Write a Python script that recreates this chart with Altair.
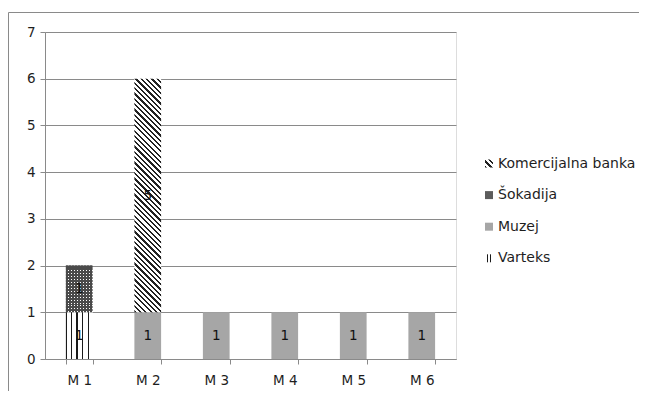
import altair as alt
import pandas as pd

# ---------------- data ----------------
categories = ["M 1", "M 2", "M 3", "M 4", "M 5", "M 6"]
stack_order = ["Varteks", "Muzej", "Šokadija", "Komercijalna banka"]  # bottom -> top
legend_order = ["Komercijalna banka", "Šokadija", "Muzej", "Varteks"]
varteks = [1, 0, 0, 0, 0, 0]
muzej = [0, 1, 1, 1, 1, 1]
sokadija = [1, 0, 0, 0, 0, 0]
komercijalna = [0, 5, 0, 0, 0, 0]
y_ticks = [0, 1, 2, 3, 4, 5, 6, 7]

rows = []
for name, vals in zip(stack_order, [varteks, muzej, sokadija, komercijalna]):
    for c, v in zip(categories, vals):
        if v:
            rows.append({"cat": c, "series": name, "value": v, "order": stack_order.index(name)})
df = pd.DataFrame(rows)

# ---------------- layout / style ----------------
PW, PH = 411, 327
PAD = {"left": 37, "top": 24, "right": 183, "bottom": 32}
P_IN = 0.61
step = PW / (len(categories) - P_IN + P_IN)
BW = step * (1 - P_IN)
UNIT = PH / 7.0
FONT = "DejaVu Sans"
FS = 13.5
TXT = "#1e1e1e"
GRID = "#8a8a8a"


def stripes(n, frac, dark, light, x1, y1, x2, y2):
    stops = []
    for k in range(n):
        a, b, c = k / n, (k + frac) / n, (k + 1) / n
        stops += [{"offset": a, "color": dark}, {"offset": b, "color": dark},
                  {"offset": b, "color": light}, {"offset": c, "color": light}]
    return {"gradient": "linear", "x1": x1, "y1": y1, "x2": x2, "y2": y2, "stops": stops}


# Varteks: vertical lines
vart_fill = stripes(5, 0.22, "#1a1a1a", "#ffffff", -0.02, 0, 1.02, 0)
# Komercijalna: "\" diagonal lines, computed for bar size
w, h = BW, 5 * UNIT
s = (w + h) / (w * w + h * h)
kom_fill = stripes(int(round((w + h) / 5.3)), 0.42, "#222222", "#ffffff", 0, 1, s * w, 1 - s * h)
# Šokadija: dotted dark texture (two overlaid stripe layers)
sok_v = stripes(int(round(BW / 3)), 0.67, "#4a4a4a", "rgba(0,0,0,0)", 0, 0, 1, 0)
sok_h = stripes(int(round(UNIT / 3)), 0.67, "#4a4a4a", "rgba(0,0,0,0)", 0, 0, 0, 1)


def grad_expr(g):
    parts = ", ".join("{offset: %.4f, color: '%s'}" % (st["offset"], st["color"]) for st in g["stops"])
    return "{gradient: 'linear', x1: %g, y1: %g, x2: %g, y2: %g, stops: [%s]}" % (
        g["x1"], g["y1"], g["x2"], g["y2"], parts)


leg_kom = stripes(3, 0.42, "#222222", "#ffffff", 0, 1, 1, 0)
leg_vart = {"gradient": "linear", "x1": 0, "y1": 0, "x2": 1, "y2": 0, "stops": [
    {"offset": 0, "color": "#ffffff"}, {"offset": 0.2, "color": "#ffffff"},
    {"offset": 0.2, "color": "#1a1a1a"}, {"offset": 0.38, "color": "#1a1a1a"},
    {"offset": 0.38, "color": "#ffffff"}, {"offset": 0.62, "color": "#ffffff"},
    {"offset": 0.62, "color": "#1a1a1a"}, {"offset": 0.8, "color": "#1a1a1a"},
    {"offset": 0.8, "color": "#ffffff"}, {"offset": 1, "color": "#ffffff"}]}
legend_range = [
    alt.ExprRef(grad_expr(leg_kom)),
    "#5c5c5c",
    "#a6a6a6",
    alt.ExprRef(grad_expr(leg_vart)),
]

base = alt.Chart(df).transform_stack(
    stack="value", as_=["y0", "y1"], groupby=["cat"],
    sort=[alt.SortField("order", order="ascending")]
).transform_calculate(ymid="(datum.y0 + datum.y1) / 2")

x_enc = alt.X("cat:N", sort=categories,
              scale=alt.Scale(domain=categories, paddingInner=P_IN, paddingOuter=P_IN / 2),
              axis=alt.Axis(title=None, labelAngle=0, tickBand="extent", tickSize=5,
                            labelPadding=9, labelFont=FONT, labelFontSize=FS, labelColor=TXT,
                            domainColor=GRID, tickColor=GRID, grid=False))
y_enc = alt.Y("y0:Q", scale=alt.Scale(domain=[0, 7], nice=False),
              axis=alt.Axis(title=None, values=y_ticks, tickSize=5, labelPadding=5,
                            labelFont=FONT, labelFontSize=FS, labelColor=TXT,
                            domainColor=GRID, tickColor=GRID, gridColor=GRID, grid=True))
y2_enc = alt.Y2("y1:Q")


def series_layer(name, fill):
    return base.transform_filter(alt.datum.series == name).mark_bar(fill=fill, strokeWidth=0).encode(
        x=x_enc, y=y_enc, y2=y2_enc)


layers = [
    series_layer("Varteks", vart_fill),
    series_layer("Muzej", "#a6a6a6"),
    series_layer("Šokadija", sok_v),
    series_layer("Šokadija", sok_h),
    series_layer("Komercijalna banka", kom_fill),
]

legend_layer = base.transform_filter("false").mark_bar().encode(
    x=x_enc, y=y_enc, y2=y2_enc,
    color=alt.Color("series:N",
                    scale=alt.Scale(domain=legend_order, range=legend_range),
                    legend=alt.Legend(title=None, orient="none", legendX=437, legendY=124.5,
                                      symbolType="square", symbolSize=64, symbolStrokeWidth=0,
                                      labelFont=FONT, labelFontSize=14, labelColor=TXT,
                                      labelOffset=2, rowPadding=17.6, padding=0)))

text_layer = base.mark_text(font=FONT, fontSize=FS, color="#111111", baseline="middle").encode(
    x=x_enc, y=alt.Y("ymid:Q"), text="value:Q")

frame_df = pd.DataFrame({"k": [0]})
frame_left = alt.Chart(frame_df).mark_rule(color=GRID, strokeWidth=1).encode(
    x=alt.value(-36.5), y=alt.value(-19.5), y2=alt.value(PH + PAD["bottom"]))
frame_top = alt.Chart(frame_df).mark_rule(color=GRID, strokeWidth=1).encode(
    x=alt.value(-36.5), x2=alt.value(PW + PAD["right"]), y=alt.value(-19.5))

chart = alt.layer(*layers, legend_layer, text_layer, frame_left, frame_top).properties(
    width=PW, height=PH, padding=PAD,
    autosize=alt.AutoSizeParams(type="none"),
).configure_view(stroke=None).configure(background="white")

chart.save("out.html", embed_options={"renderer": "svg", "actions": False})
